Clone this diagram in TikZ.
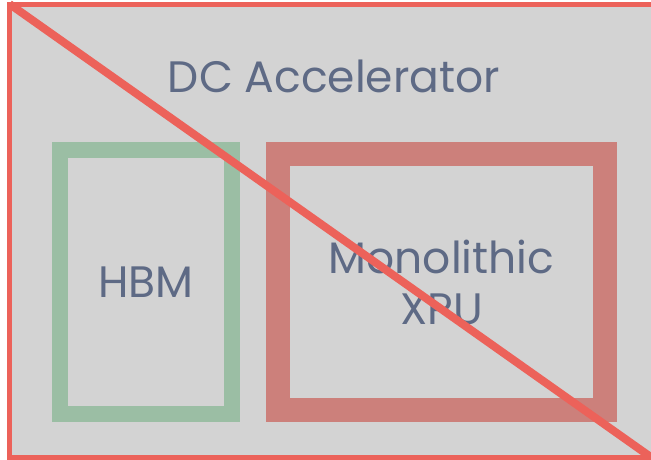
\documentclass[tikz,border=0pt]{standalone}
\usepackage{fontspec}
\setmainfont{Poppins}
\usepackage{xcolor}
\definecolor{dcgray}{RGB}{211,211,211}
\definecolor{dcred}{RGB}{236,98,90}
\definecolor{dcgreen}{RGB}{155,190,164}
\definecolor{dcrose}{RGB}{204,128,123}
\definecolor{dctext}{RGB}{94,106,133}
\usetikzlibrary{positioning}

\tikzset{
  unitbox/.style={draw,inner sep=0pt,outer sep=0pt},
  unitlabel/.style={text=dctext,font=\fontsize{44}{51}\selectfont,align=center,inner sep=0pt}
}

\begin{document}
\begin{tikzpicture}[x=1pt,y=-1pt]
  \useasboundingbox (0,0) rectangle (651,460);
  \clip (0,0) rectangle (651,460);

  % outer accelerator card
  \node[unitbox,fill=dcgray,draw=none,minimum width=650.5pt,minimum height=452pt]
        (card) at (334.75,231) {};
  \node[unitlabel] (title) at (334,76) {DC Accelerator};

  % HBM
  \node[unitbox,draw=dcgreen,line width=16.5pt,minimum width=172pt,minimum height=264pt]
        (hbm) at (146,282) {};
  \node[unitlabel] (hbmlabel) at (hbm.center) {HBM};

  % Monolithic XPU
  \node[unitbox,draw=dcrose,line width=24pt,minimum width=327pt,minimum height=256pt]
        (xpu) at (441.5,282) {};
  \node[unitlabel] (xpulabel) at (xpu.center) {Monolithic\\XPU};

  % card border and strike-through
  \node[unitbox,draw=dcred,line width=5pt,minimum width=650.5pt,minimum height=452pt]
        (border) at (334.75,231) {};
  \coordinate (cross start) at (9.5,4);
  \coordinate (cross end) at (655,460);
  \draw[dcred,line width=8pt] (cross start) -- (cross end);
\end{tikzpicture}
\end{document}
